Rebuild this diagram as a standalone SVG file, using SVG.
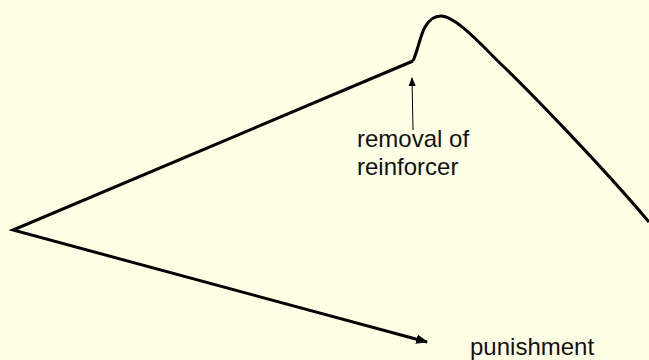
<svg xmlns="http://www.w3.org/2000/svg" width="649" height="360" viewBox="0 0 649 360">
<style>
.main{fill:none;stroke:#000;stroke-width:3;stroke-linejoin:miter}
.thin{fill:none;stroke:#000;stroke-width:1}
.lbl{font-family:"Liberation Sans",Arial,sans-serif;font-size:24px;fill:#111}
</style>
<defs>
<marker id="ah" viewBox="0 0 10 10" refX="9" refY="5" markerWidth="4" markerHeight="4" orient="auto" markerUnits="strokeWidth"><path d="M0,1 L10,5 L0,9 z" fill="#000"/></marker>
<marker id="ahs" viewBox="0 0 10 10" refX="9" refY="5" markerWidth="9" markerHeight="9" orient="auto" markerUnits="strokeWidth"><path d="M0,1 L10,5 L0,9 z" fill="#000"/></marker>
</defs>
<rect width="649" height="360" fill="#FFFFE5"/>
<g id="connectors">
<path class="main" d="M413,61 L13,230 L427,342" marker-end="url(#ah)"/>
<path class="main" d="M413,61 C418,50 420,36 425,27 C430,18 435,16 441,16 C456,16 483,46.8 503,66 C528,90 601,165 649,222"/>
<path class="thin" d="M413,130 L412,78" marker-end="url(#ahs)"/>
</g>
<g id="label-removal">
<text class="lbl" x="357" y="147">removal of</text>
<text class="lbl" x="357" y="175">reinforcer</text>
</g>
<g id="label-punishment">
<text class="lbl" x="470" y="355">punishment</text>
</g>
</svg>
